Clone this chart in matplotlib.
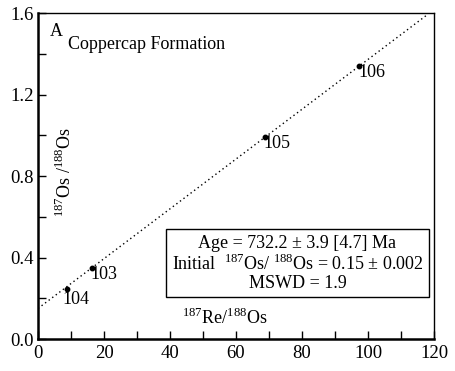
import matplotlib
matplotlib.use("Agg")
import matplotlib.pyplot as plt
import numpy as np

plt.rcParams['font.family'] = ['Liberation Serif', 'DejaVu Serif']
plt.rcParams['mathtext.fontset'] = 'custom'
plt.rcParams['mathtext.rm'] = 'Liberation Serif'

sample_ids = ['104', '103', '105', '106']
re_os = [8.8, 16.3, 68.8, 97.3]
os_os = [0.245, 0.35, 0.99, 1.341]
intercept = 0.15
slope = 0.01222
xticks = [0, 20, 40, 60, 80, 100, 120]
yticks = [0.0, 0.4, 0.8, 1.2, 1.6]

fig = plt.figure(figsize=(4.55, 3.71), dpi=100)
ax = fig.add_axes([38/455, 1 - 339/371, (434-38)/455, (339-13)/371])

xl = np.array([0, 118])
ax.plot(xl, intercept + slope*xl, ls=(0, (1, 2.2)), color='black', lw=1.0)
ax.plot(re_os, os_os, 'o', color='black', ms=3.2)

offsets = {'104': (-1.3, -0.05), '103': (-0.3, -0.035), '105': (-0.5, -0.03), '106': (-0.2, -0.035)}
for sid, x, y in zip(sample_ids, re_os, os_os):
    dx, dy = offsets[sid]
    ax.text(x + dx, y + dy, sid, fontsize=13, va='center', ha='left')

ax.set_xlim(0, 120)
ax.set_ylim(0, 1.6)
ax.set_xticks(xticks)
ax.set_yticks(yticks)
ax.set_xticklabels([str(t) for t in xticks])
ax.set_yticklabels([f'{t:.1f}' for t in yticks])
ax.set_xticks(np.arange(10, 120, 20), minor=True)
ax.set_yticks([0.2, 0.6, 1.0, 1.4], minor=True)
ax.tick_params(which='both', direction='in', labelsize=13.5, width=1)
ax.tick_params(which='major', length=6)
ax.tick_params(which='minor', length=6)
ax.tick_params(axis='x', pad=4)
ax.tick_params(axis='y', pad=3)
for s in ['left', 'bottom']:
    ax.spines[s].set_linewidth(1.8)
for s in ['top', 'right']:
    ax.spines[s].set_linewidth(1.0)

ax.text(0.03, 0.97, 'A', transform=ax.transAxes, fontsize=13, va='top', ha='left')
ax.text(0.075, 0.93, 'Coppercap Formation', transform=ax.transAxes, fontsize=13, va='top', ha='left')

ax.text(0.068, 0.512, r'$^{187}$Os /$^{188}$Os', transform=ax.transAxes, rotation=90,
        fontsize=13, va='center', ha='center')
ax.text(0.472, 0.066, r'$^{187}$Re/$^{188}$Os', transform=ax.transAxes,
        fontsize=13, va='center', ha='center')

box_text = ('Age = 732.2 ± 3.9 [4.7] Ma\n'
            r'Initial  $^{187}$Os/ $^{188}$Os = 0.15 ± 0.002' + '\n'
            'MSWD = 1.9')
ax.text(0.655, 0.232, box_text, transform=ax.transAxes, fontsize=13, va='center', ha='center',
        multialignment='center', linespacing=1.1,
        bbox=dict(boxstyle='square,pad=0.3', fc='white', ec='black', lw=1.0))

fig.savefig('out.png', dpi=100)
